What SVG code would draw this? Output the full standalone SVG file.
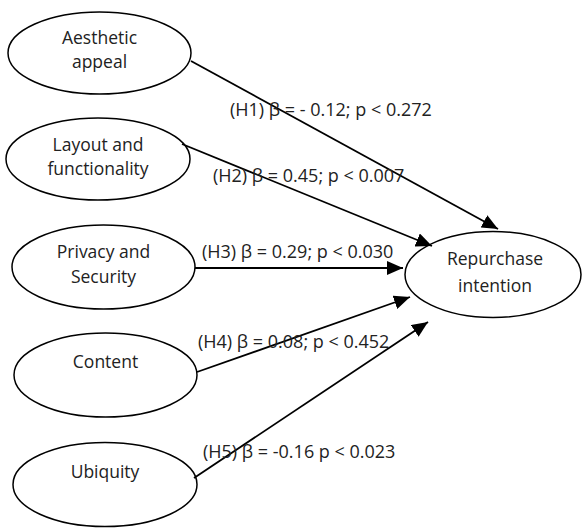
<svg xmlns="http://www.w3.org/2000/svg" width="582" height="528" viewBox="0 0 582 528">
<defs>
<style>
.node ellipse{fill:#fff;stroke:#000;stroke-width:1.5}
.node text{font-family:"Open Sans","Noto Sans",sans-serif;font-size:17.5px;fill:#222;text-anchor:middle}
.lbl{font-family:"Open Sans","Noto Sans",sans-serif;font-size:18px;fill:#222}
.edges line{stroke:#000;stroke-width:1.8;marker-end:url(#ah)}
</style>
<marker id="ah" markerUnits="userSpaceOnUse" markerWidth="16" markerHeight="14" viewBox="0 0 16 14" refX="16" refY="7" orient="auto">
<path d="M0,0 L16,7 L0,14 z" fill="#000"/>
</marker>
</defs>
<rect width="582" height="528" fill="#fff"/>
<g id="n-aesthetic" class="node"><ellipse cx="99.5" cy="53" rx="91.5" ry="41"/><text x="99.5" y="44">Aesthetic</text><text x="99.5" y="68">appeal</text></g>
<g id="n-layout" class="node"><ellipse cx="98" cy="159" rx="92" ry="41"/><text x="98" y="151">Layout and</text><text x="98" y="175">functionality</text></g>
<g id="n-privacy" class="node"><ellipse cx="103.5" cy="267" rx="91.5" ry="42"/><text x="103.5" y="258">Privacy and</text><text x="103.5" y="283">Security</text></g>
<g id="n-content" class="node"><ellipse cx="105.5" cy="375" rx="91.5" ry="42"/><text x="105.5" y="368">Content</text></g>
<g id="n-ubiquity" class="node"><ellipse cx="105" cy="484.5" rx="92" ry="42"/><text x="105" y="478">Ubiquity</text></g>
<g id="n-repurchase" class="node"><ellipse cx="493" cy="274.5" rx="88" ry="43"/><text x="495" y="265">Repurchase</text><text x="495" y="292">intention</text></g>
<g id="edges" class="edges">
<line x1="191" y1="61" x2="498" y2="229"/>
<line x1="182" y1="144" x2="432" y2="246"/>
<line x1="195" y1="268" x2="403" y2="268"/>
<line x1="197" y1="372" x2="410" y2="297"/>
<line x1="194" y1="478" x2="428" y2="322"/>
</g>
<g id="labels">
<text class="lbl" x="230" y="116">(H1) β = - 0.12; p &lt; 0.272</text>
<text class="lbl" x="213" y="182">(H2) β = 0.45; p &lt; 0.007</text>
<text class="lbl" x="202" y="258">(H3) β = 0.29; p &lt; 0.030</text>
<text class="lbl" x="198" y="348">(H4) β = 0.08; p &lt; 0.452</text>
<text class="lbl" x="203" y="458">(H5) β = -0.16 p &lt; 0.023</text>
</g>
</svg>
